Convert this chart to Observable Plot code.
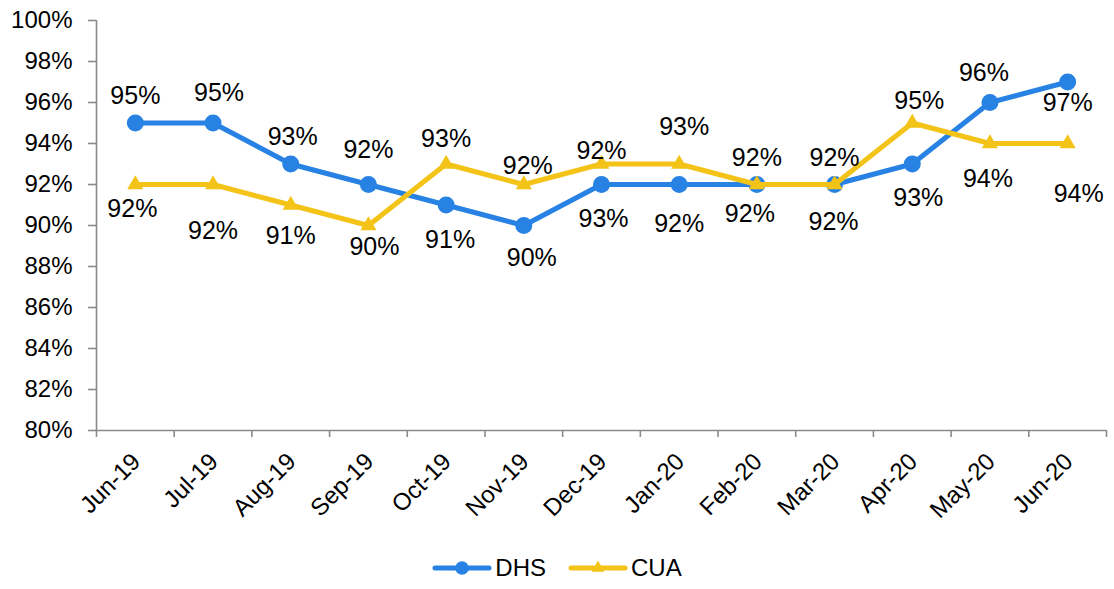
<!DOCTYPE html>
<html>
<head>
<meta charset="utf-8">
<script src="https://cdn.jsdelivr.net/npm/d3@7"></script>
<script src="https://cdn.jsdelivr.net/npm/@observablehq/plot@0.6"></script>
<style>
  html, body { margin: 0; padding: 0; background: #fff; }
  body { width: 1114px; font-family: "Liberation Sans", Arial, sans-serif; }
  #legend { display: flex; justify-content: center; align-items: center; height: 56px; font-size: 24px; color: #000; }
  #legend .item { display: flex; align-items: center; margin: 0 11px; }
  #legend svg { margin-right: 3px; }
</style>
</head>
<body>
<div id="chart"></div>
<div id="legend"></div>
<script>
// Monthly rates, Jun-19 to Jun-20
const months = ["Jun-19", "Jul-19", "Aug-19", "Sep-19", "Oct-19", "Nov-19", "Dec-19",
                "Jan-20", "Feb-20", "Mar-20", "Apr-20", "May-20", "Jun-20"];
const dhs = [95, 95, 93, 92, 91, 90, 92, 92, 92, 92, 93, 96, 97];
const cua = [92, 92, 91, 90, 93, 92, 93, 93, 92, 92, 95, 94, 94];
const yTicks = [80, 82, 84, 86, 88, 90, 92, 94, 96, 98, 100];

// Hand placement of each value label: [dx, dy] in pixels from its point
const dhsLabelNudge = [[0, -27], [6, -30], [2, -27], [0, -35], [4, 35], [8, 32], [0, -34],
                       [0, 39], [0, -27], [0, -27], [6, 34], [-6, -30], [0, 21]];
const cuaLabelNudge = [[-3, 24], [0, 46], [0, 31], [6, 21], [0, -25], [4, -19], [2, 55],
                       [5, -37], [-7, 29], [-1, 37], [7, -22], [-2, 35], [11, 50]];

const series = [
  {name: "DHS", values: dhs, nudge: dhsLabelNudge, color: "#2782e4", symbol: "circle", r: 8.5},
  {name: "CUA", values: cua, nudge: cuaLabelNudge, color: "#f3c318", symbol: "triangle", r: 6}
];

const rows = series.flatMap(s => months.map((m, i) => ({series: s.name, i, month: m, value: s.values[i]})));
const boundaries = d3.range(months.length + 1).map(k => k - 0.5);
const axisGray = "#8a8a8a";
const font = "Liberation Sans, Arial, sans-serif";

const marks = [
  // axis lines
  Plot.ruleX([-0.5], {stroke: axisGray, strokeWidth: 1.6}),
  Plot.ruleY([80], {stroke: axisGray, strokeWidth: 1.6}),
  Plot.axisY(yTicks, {
    tickSize: 8, tickPadding: 16, stroke: axisGray, strokeWidth: 1.6,
    tickFormat: d => d + "%", fontSize: 24, fill: "#000", label: null
  }),
  // category boundary ticks
  Plot.axisX(boundaries, {tickSize: 7, stroke: axisGray, strokeWidth: 1.6, tickFormat: () => "", label: null}),
  // category names
  Plot.axisX(d3.range(months.length), {
    tickSize: 0, tickPadding: 27, tickRotate: -45, textAnchor: "end", lineAnchor: "middle",
    tickFormat: i => months[i], fontSize: 24, fill: "#000", label: null, dx: 1
  })
];

for (const s of series) {
  const data = rows.filter(d => d.series === s.name);
  marks.push(Plot.line(data, {x: "i", y: "value", stroke: s.color, strokeWidth: 5, strokeLinejoin: "round"}));
  marks.push(Plot.dot(data, {x: "i", y: "value", fill: s.color, symbol: s.symbol, r: s.r}));
}

for (const s of series) {
  const data = rows.filter(d => d.series === s.name);
  data.forEach((d, k) => {
    marks.push(Plot.text([d], {
      x: "i", y: "value", text: v => v.value + "%",
      dx: s.nudge[k][0], dy: s.nudge[k][1], fontSize: 25, fill: "#000"
    }));
  });
}

const chart = Plot.plot({
  width: 1114,
  height: 540,
  marginLeft: 96,
  marginRight: 8,
  marginTop: 20,
  marginBottom: 110,
  style: {fontFamily: font, background: "#fff"},
  x: {type: "linear", domain: [-0.5, months.length - 0.5], axis: null},
  y: {domain: [80, 100], axis: null},
  marks
});
document.getElementById("chart").append(chart);

// legend below the plot
const legend = d3.select("#legend");
for (const s of series) {
  const item = legend.append("div").attr("class", "item");
  const sw = item.append("svg").attr("width", 60).attr("height", 20);
  sw.append("line").attr("x1", 3).attr("x2", 57).attr("y1", 10).attr("y2", 10)
    .attr("stroke", s.color).attr("stroke-width", 5).attr("stroke-linecap", "round");
  const sym = s.symbol === "circle" ? d3.symbolCircle : d3.symbolTriangle;
  sw.append("path").attr("d", d3.symbol(sym, Math.PI * (s.r * 0.8) ** 2)())
    .attr("transform", "translate(30,10)").attr("fill", s.color);
  item.append("span").text(s.name);
}
</script>
</body>
</html>
